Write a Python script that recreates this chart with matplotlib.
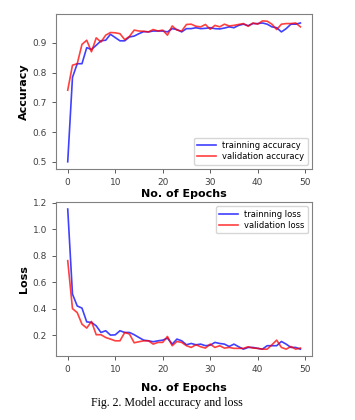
import numpy as np
import matplotlib.pyplot as plt

plt.rcParams['font.family'] = ['DejaVu Sans']

epochs = np.arange(50)

train_acc = [0.500, 0.784, 0.830, 0.830, 0.884, 0.878, 0.892, 0.907, 0.909, 0.929,
             0.918, 0.907, 0.907, 0.920, 0.923, 0.931, 0.938, 0.937, 0.940, 0.940,
             0.940, 0.937, 0.948, 0.945, 0.937, 0.948, 0.948, 0.951, 0.948, 0.949,
             0.951, 0.948, 0.947, 0.950, 0.954, 0.951, 0.959, 0.963, 0.958, 0.965,
             0.965, 0.967, 0.963, 0.954, 0.951, 0.937, 0.948, 0.963, 0.963, 0.967]
val_acc = [0.741, 0.825, 0.830, 0.895, 0.909, 0.870, 0.917, 0.903, 0.926, 0.935,
           0.934, 0.931, 0.911, 0.922, 0.943, 0.940, 0.939, 0.937, 0.945, 0.940,
           0.943, 0.926, 0.957, 0.943, 0.940, 0.962, 0.963, 0.956, 0.954, 0.962,
           0.946, 0.959, 0.954, 0.963, 0.957, 0.959, 0.962, 0.965, 0.956, 0.967,
           0.963, 0.974, 0.973, 0.963, 0.945, 0.963, 0.965, 0.965, 0.967, 0.954]

train_loss = [1.152, 0.510, 0.420, 0.404, 0.300, 0.296, 0.270, 0.220, 0.233, 0.200,
              0.202, 0.233, 0.220, 0.220, 0.203, 0.182, 0.162, 0.157, 0.150, 0.157,
              0.162, 0.177, 0.132, 0.170, 0.157, 0.127, 0.137, 0.127, 0.132, 0.120,
              0.124, 0.145, 0.137, 0.132, 0.114, 0.132, 0.112, 0.094, 0.107, 0.107,
              0.100, 0.094, 0.120, 0.120, 0.120, 0.152, 0.132, 0.107, 0.107, 0.094]
val_loss = [0.762, 0.400, 0.370, 0.283, 0.253, 0.303, 0.203, 0.203, 0.182, 0.170,
            0.157, 0.157, 0.220, 0.208, 0.142, 0.150, 0.157, 0.157, 0.132, 0.145,
            0.145, 0.190, 0.120, 0.152, 0.145, 0.120, 0.107, 0.127, 0.112, 0.102,
            0.132, 0.107, 0.120, 0.102, 0.107, 0.100, 0.100, 0.100, 0.112, 0.102,
            0.100, 0.094, 0.094, 0.127, 0.162, 0.107, 0.094, 0.114, 0.094, 0.102]

fig = plt.figure(figsize=(3.55, 4.2), dpi=100)
ax1 = fig.add_axes([0.158, 0.598, 0.721, 0.369])
ax2 = fig.add_axes([0.158, 0.152, 0.721, 0.367])

def style(ax, ylabel):
    for s in ax.spines.values():
        s.set_color('#808080')
        s.set_linewidth(0.8)
    ax.tick_params(labelsize=6.5, colors='#404040', length=3, width=0.6)
    ax.set_ylabel(ylabel, fontsize=8, fontweight='bold', labelpad=3)
    ax.set_xticks([0, 10, 20, 30, 40, 50])

ax1.plot(epochs, train_acc, color='blue', alpha=0.75, lw=1.2, label='trainning accuracy')
ax1.plot(epochs, val_acc, color='red', alpha=0.75, lw=1.2, label='validation accuracy')
style(ax1, 'Accuracy')
ax1.set_xlabel('No. of Epochs', fontsize=8, fontweight='bold', labelpad=1.5)
ax1.set_yticks([0.5, 0.6, 0.7, 0.8, 0.9])
ax1.legend(loc='lower right', fontsize=6, handlelength=2.2, borderpad=0.4, labelspacing=0.3)

ax2.plot(epochs, train_loss, color='blue', alpha=0.75, lw=1.2, label='trainning loss')
ax2.plot(epochs, val_loss, color='red', alpha=0.75, lw=1.2, label='validation loss')
style(ax2, 'Loss')
ax2.set_xlabel('No. of Epochs', fontsize=8, fontweight='bold', labelpad=6)
ax2.set_yticks([0.2, 0.4, 0.6, 0.8, 1.0, 1.2])
ax2.legend(loc='upper right', fontsize=6, handlelength=2.2, borderpad=0.4, labelspacing=0.3)

fig.text(0.47, 0.04, 'Fig. 2. Model accuracy and loss', ha='center', va='center',
         fontsize=8.6, family='Liberation Serif')

fig.savefig('out.png', dpi=100)
